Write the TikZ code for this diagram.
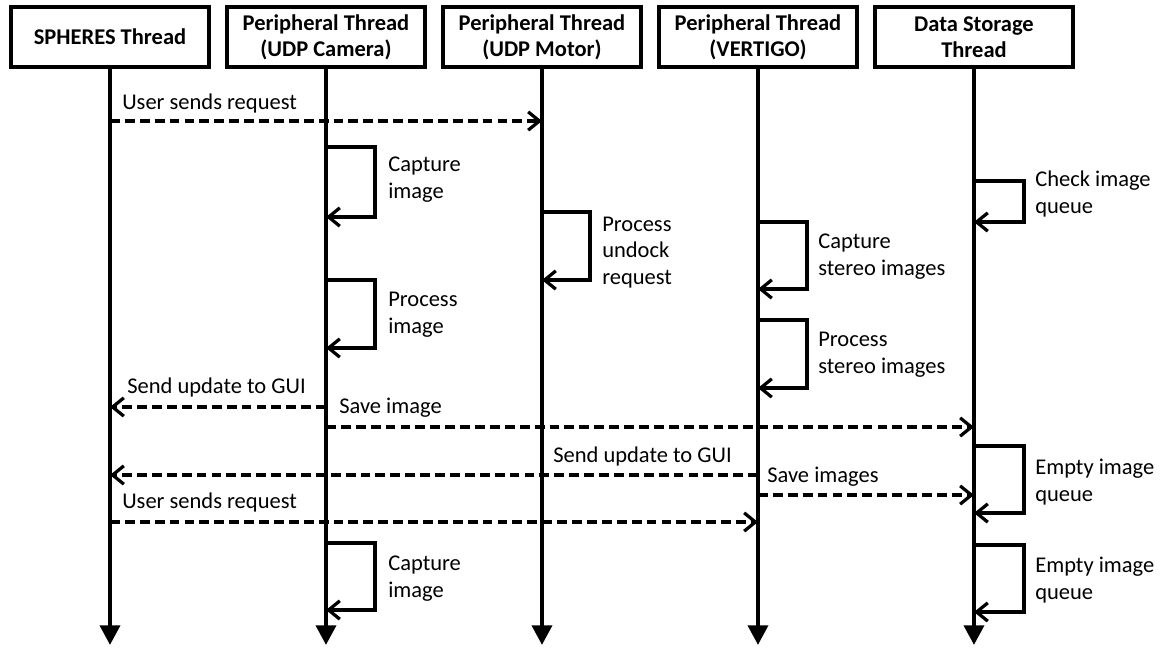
\documentclass[tikz,border=0pt]{standalone}
\usepackage{fontspec}
\setmainfont{Carlito}
\usetikzlibrary{arrows.meta, positioning}
\tikzset{
    % boxes on top, one per thread
    thread/.style = {rectangle, draw, line width=2.8pt, minimum width=4.95cm, minimum height=1.5cm, align=center, font=\fontsize{16}{18.6}\selectfont\bfseries, inner sep=2pt},
    lifeline/.style = {line width=3.2pt, -{Triangle[length=14pt, width=14pt]}},
    message/.style = {line width=2.6pt, dash pattern=on 7pt off 3.6pt, -{Straight Barb[length=8pt, width=13pt, line width=2.3pt]}},
    selfcall/.style = {line width=2.8pt, -{Straight Barb[length=8pt, width=13pt, line width=2.3pt]}},
    note/.style = {align=left, inner sep=0pt, anchor=base west}
}

\begin{document}
\begin{tikzpicture}[x=0.025cm, y=-0.025cm, font=\fontsize{16}{18.6}\selectfont]
\useasboundingbox (0,0) rectangle (1161,647);

% Nodes
\node[thread] (spheres) at (110,37) {SPHERES Thread};
\node[thread, right=0.35cm of spheres] (camera) {Peripheral Thread\\(UDP Camera)};
\node[thread, right=0.35cm of camera] (motor) {Peripheral Thread\\(UDP Motor)};
\node[thread, right=0.35cm of motor] (vertigo) {Peripheral Thread\\(VERTIGO)};
\node[thread, right=0.35cm of vertigo] (storage) {Data Storage\\Thread};

\coordinate (spheres_end) at (spheres.south |- 0,645);
\coordinate (camera_end) at (camera.south |- 0,645);
\coordinate (motor_end) at (motor.south |- 0,645);
\coordinate (vertigo_end) at (vertigo.south |- 0,645);
\coordinate (storage_end) at (storage.south |- 0,645);

% Lifelines
\draw[lifeline] (spheres.south) -- (spheres_end);
\draw[lifeline] (camera.south) -- (camera_end);
\draw[lifeline] (motor.south) -- (motor_end);
\draw[lifeline] (vertigo.south) -- (vertigo_end);
\draw[lifeline] (storage.south) -- (storage_end);

% Messages
\draw[message] (spheres |- 0,121) -- (motor |- 0,121);
\node[note] (req_a) at (122,109) {User sends request};
\draw[message] (camera |- 0,407) -- (spheres |- 0,407);
\node[note] (gui_a) at (127,393) {Send update to GUI};
\draw[message] (camera |- 0,427) -- (storage |- 0,427);
\node[note] (save_a) at (339,413) {Save image};
\draw[message] (vertigo |- 0,475) -- (spheres |- 0,475);
\node[note] (gui_b) at (553,462) {Send update to GUI};
\draw[message] (vertigo |- 0,495) -- (storage |- 0,495);
\node[note] (save_b) at (767,482) {Save images};
\draw[message] (spheres |- 0,522) -- (vertigo |- 0,522);
\node[note] (req_b) at (122,508) {User sends request};

% Self calls
\draw[selfcall] (camera |- 0,147) -- ++(49,0) |- (camera |- 0,217);
\node[note] (cap_a) at (388,198) {Capture\\image};
\draw[selfcall] (storage |- 0,181) -- ++(50,0) |- (storage |- 0,222);
\node[note] (check) at (1035,213) {Check image\\queue};
\draw[selfcall] (motor |- 0,212) -- ++(48,0) |- (motor |- 0,280);
\node[note] (undock) at (602,284) {Process\\undock\\request};
\draw[selfcall] (vertigo |- 0,222) -- ++(49,0) |- (vertigo |- 0,289);
\node[note] (stereo_a) at (818,275) {Capture\\stereo images};
\draw[selfcall] (camera |- 0,280) -- ++(49,0) |- (camera |- 0,348);
\node[note] (proc_a) at (388,333) {Process\\image};
\draw[selfcall] (vertigo |- 0,320) -- ++(49,0) |- (vertigo |- 0,388);
\node[note] (stereo_b) at (818,373) {Process\\stereo images};
\draw[selfcall] (storage |- 0,446) -- ++(50,0) |- (storage |- 0,513);
\node[note] (empty_a) at (1035,501) {Empty image\\queue};
\draw[selfcall] (camera |- 0,543) -- ++(49,0) |- (camera |- 0,610);
\node[note] (cap_b) at (388,597) {Capture\\image};
\draw[selfcall] (storage |- 0,545) -- ++(50,0) |- (storage |- 0,612);
\node[note] (empty_b) at (1035,599) {Empty image\\queue};

\end{tikzpicture}
\end{document}
